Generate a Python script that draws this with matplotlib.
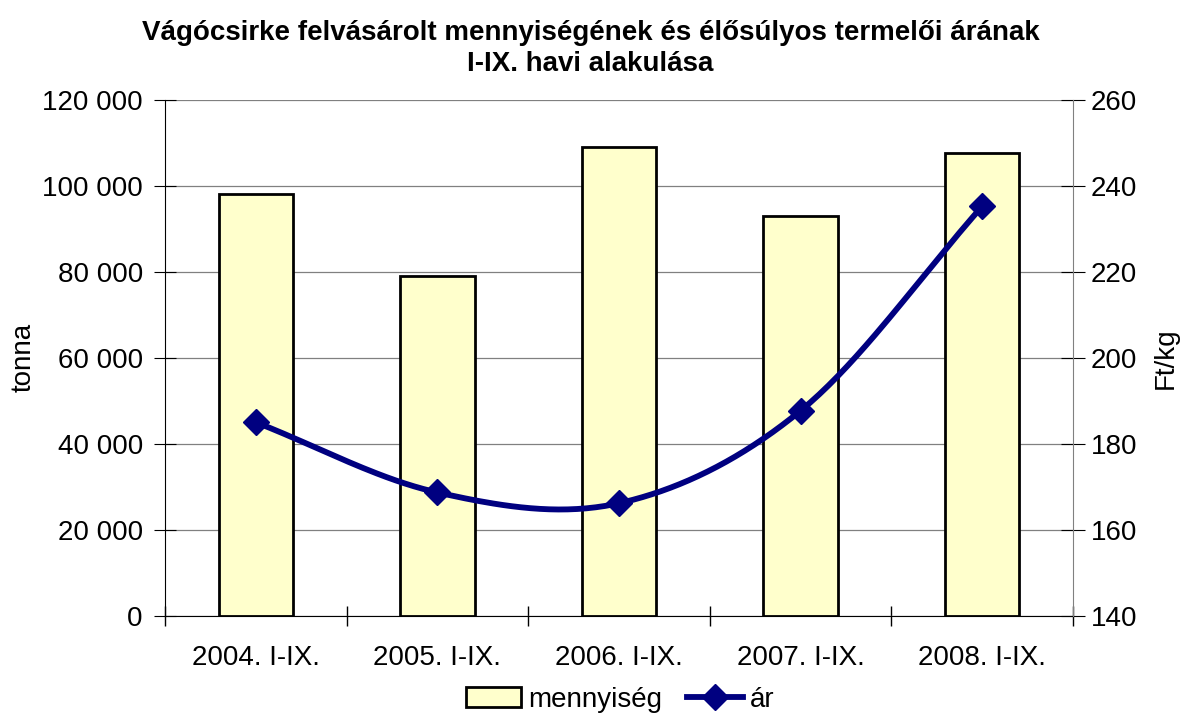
import numpy as np
import matplotlib.pyplot as plt

plt.rcParams['font.family'] = ['Liberation Sans', 'DejaVu Sans']

# adatok
categories = ["2004. I-IX.", "2005. I-IX.", "2006. I-IX.", "2007. I-IX.", "2008. I-IX."]
mennyiseg = [98000, 79000, 109000, 93000, 107500]   # tonna
ar = [185.0, 168.7, 166.2, 187.7, 235.2]            # Ft/kg
left_ticks = [0, 20000, 40000, 60000, 80000, 100000, 120000]
right_ticks = [140, 160, 180, 200, 220, 240, 260]


def smooth(xs, ys, n=40):
    # Excel-szerű simított vonal (Catmull-Rom)
    xs, ys = np.asarray(xs, float), np.asarray(ys, float)
    px = np.concatenate([[2 * xs[0] - xs[1]], xs, [2 * xs[-1] - xs[-2]]])
    py = np.concatenate([[2 * ys[0] - ys[1]], ys, [2 * ys[-1] - ys[-2]]])
    ox, oy = [], []
    t = np.linspace(0, 1, n)
    for i in range(1, len(px) - 2):
        for p, o in ((px, ox), (py, oy)):
            p0, p1, p2, p3 = p[i - 1], p[i], p[i + 1], p[i + 2]
            o.extend(0.5 * ((2 * p1) + (-p0 + p2) * t + (2 * p0 - 5 * p1 + 4 * p2 - p3) * t ** 2
                            + (-p0 + 3 * p1 - 3 * p2 + p3) * t ** 3))
    return np.array(ox), np.array(oy)


fs = 20
fig = plt.figure(figsize=(11.81, 7.15), dpi=100)
ax = fig.add_axes([0.1397, 0.1385, 0.7689, 0.7223])
x = np.arange(len(categories))

ax.bar(x, mennyiseg, width=0.41, color="#FFFFCC", edgecolor="black", linewidth=2,
       label="mennyiség", zorder=2)
ax.set_xlim(-0.5, len(categories) - 0.5)
ax.set_ylim(0, 120000)
ax.set_yticks(left_ticks)
ax.set_yticklabels([f"{v:,}".replace(",", " ") for v in left_ticks])
ax.yaxis.grid(True, color="#808080", linewidth=0.9)
ax.set_axisbelow(True)
ax.set_xticks(x)
ax.set_xticklabels(categories)
ax.set_xticks(np.arange(-0.5, len(categories)), minor=True)
ax.tick_params(axis="x", which="major", length=0, pad=21, labelsize=fs)
ax.tick_params(axis="x", which="minor", length=15, direction="inout", width=1)
ax.tick_params(axis="y", length=16, direction="inout", labelsize=fs, pad=8)
ax.set_ylabel("tonna", fontsize=fs)
ax.yaxis.set_label_coords(-0.141, 0.5)
ax.spines["top"].set_visible(False)
ax.spines["right"].set_visible(False)

ax2 = ax.twinx()
sx, sy = smooth(x, ar)
ax2.plot(sx, sy, color="#000080", linewidth=4.2, zorder=3)
ax2.plot(x, ar, linestyle="none", marker="D", markersize=13, color="#000080", zorder=4)
ax2.plot([], [], color="#000080", linewidth=4.2, marker="D", markersize=13, label="ár")
ax2.set_ylim(140, 260)
ax2.set_yticks(right_ticks)
ax2.tick_params(axis="y", length=17, direction="inout", labelsize=fs, pad=4)
ax2.set_ylabel("Ft/kg", fontsize=fs)
ax2.yaxis.set_label_coords(1.088, 0.5)
for s in ("top", "left", "bottom"):
    ax2.spines[s].set_visible(False)
ax2.spines["right"].set_color("#808080")

fig.suptitle("Vágócsirke felvásárolt mennyiségének és élősúlyos termelői árának\nI-IX. havi alakulása",
             fontsize=20, fontweight="bold", y=0.972, linespacing=1.25)

h1, l1 = ax.get_legend_handles_labels()
h2, l2 = ax2.get_legend_handles_labels()
fig.legend(h1 + h2, l1 + l2, loc="lower center", bbox_to_anchor=(0.525, -0.032), ncol=2,
           frameon=False, fontsize=fs, handlelength=2.0, columnspacing=0.9, handletextpad=0.25)

fig.savefig("out.png", dpi=100)
